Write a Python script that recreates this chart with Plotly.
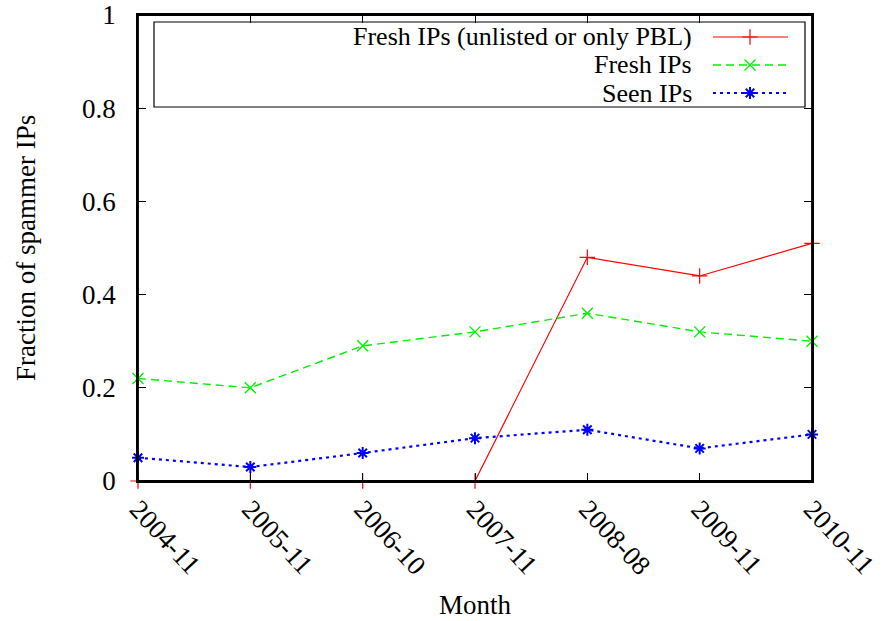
import plotly.graph_objects as go

months = ["2004-11", "2005-11", "2006-10", "2007-11", "2008-08", "2009-11", "2010-11"]
fresh_unlisted = [0, 0, 0, 0, 0.48, 0.44, 0.51]
fresh = [0.22, 0.20, 0.29, 0.32, 0.36, 0.32, 0.30]
seen = [0.05, 0.03, 0.06, 0.092, 0.11, 0.07, 0.10]
series_names = ["Fresh IPs (unlisted or only PBL)", "Fresh IPs", "Seen IPs"]

FONT = "Liberation Serif, Times New Roman, DejaVu Serif, serif"
W, H = 884, 621
L, R, T, B = 138, 72, 15, 140
PW, PH = W - L - R, H - T - B

def px_x(p):
    return (p - L) / PW

def px_y(p):
    return (H - B - p) / PH

styles = [
    dict(color="#ff0000", dash="solid", width=1.2, symbol="cross-thin-open", msize=11, mlw=1.2),
    dict(color="#00f000", dash="8px,5px", width=1.4, symbol="x-thin-open", msize=11, mlw=1.4),
    dict(color="#0000ff", dash="3px,4px", width=2.2, symbol="asterisk-open", msize=10, mlw=2),
]
data = [fresh_unlisted, fresh, seen]

fig = go.Figure()
for name, ys, st in zip(series_names, data, styles):
    fig.add_trace(go.Scatter(
        x=months, y=ys, mode="lines+markers", name=name, showlegend=False,
        cliponaxis=False,
        line=dict(color=st["color"], dash=st["dash"], width=st["width"]),
        marker=dict(symbol=st["symbol"], size=st["msize"],
                    line=dict(color=st["color"], width=st["mlw"]), color=st["color"]),
    ))

# manual gnuplot-style legend (text right, sample left->right)
rows_py = [37, 65, 93]
lx0, lx1, lmid = px_x(713), px_x(788), px_x(750)
for name, st, py in zip(series_names, styles, rows_py):
    yy = px_y(py)
    fig.add_trace(go.Scatter(
        x=[lx0, lx1], y=[yy, yy], xaxis="x2", yaxis="y2", mode="lines",
        showlegend=False, hoverinfo="skip",
        line=dict(color=st["color"], dash=st["dash"], width=st["width"]),
    ))
    fig.add_trace(go.Scatter(
        x=[lmid], y=[yy], xaxis="x2", yaxis="y2", mode="markers",
        showlegend=False, hoverinfo="skip", cliponaxis=False,
        marker=dict(symbol=st["symbol"], size=st["msize"],
                    line=dict(color=st["color"], width=st["mlw"]), color=st["color"]),
    ))
    fig.add_annotation(
        x=px_x(694), y=yy, xref="paper", yref="paper", text=name,
        showarrow=False, xanchor="right", yanchor="middle",
        font=dict(family=FONT, size=26, color="black"),
    )

fig.add_shape(type="rect", xref="paper", yref="paper",
              x0=px_x(154), x1=px_x(805), y0=px_y(107), y1=px_y(22),
              line=dict(color="black", width=1.2), fillcolor="rgba(0,0,0,0)")
# plot frame drawn above the traces (like gnuplot border)
fig.add_shape(type="rect", xref="paper", yref="paper", x0=0, x1=1, y0=0, y1=1,
              line=dict(color="black", width=1.8), fillcolor="rgba(0,0,0,0)",
              layer="above")

fig.add_annotation(x=px_x(26), y=0.5, xref="paper", yref="paper",
                   text="Fraction of spammer IPs", textangle=-90, showarrow=False,
                   xanchor="center", yanchor="middle",
                   font=dict(family=FONT, size=27, color="black"))
fig.add_annotation(x=0.5, y=px_y(605), xref="paper", yref="paper",
                   text="Month", showarrow=False, xanchor="center", yanchor="middle",
                   font=dict(family=FONT, size=27, color="black"))

fig.update_layout(
    width=W, height=H,
    margin=dict(l=L, r=R, t=T, b=B, pad=0, autoexpand=False),
    paper_bgcolor="white", plot_bgcolor="white",
    font=dict(family=FONT, size=27, color="black"),
    xaxis=dict(type="category", range=[0, 6], showline=True, linecolor="black",
               linewidth=1.5, mirror="ticks", ticks="inside", ticklen=8,
               tickcolor="black", tickwidth=1.2, showgrid=False, zeroline=False,
               tickangle=47, ticklabelstandoff=0, automargin=False,
               tickfont=dict(family=FONT, size=27, color="black")),
    yaxis=dict(range=[0, 1], tickvals=[0, 0.2, 0.4, 0.6, 0.8, 1],
               ticktext=["0", "0.2", "0.4", "0.6", "0.8", "1"],
               showline=True, linecolor="black", linewidth=1.5, mirror="ticks",
               ticks="inside", ticklen=8, tickcolor="black", tickwidth=1.2,
               showgrid=False, zeroline=False, ticklabelstandoff=15, automargin=False,
               tickfont=dict(family=FONT, size=27, color="black")),
    xaxis2=dict(range=[0, 1], overlaying="x", visible=False, fixedrange=True),
    yaxis2=dict(range=[0, 1], overlaying="y", visible=False, fixedrange=True),
    showlegend=False,
)

fig.write_html("out.html")
